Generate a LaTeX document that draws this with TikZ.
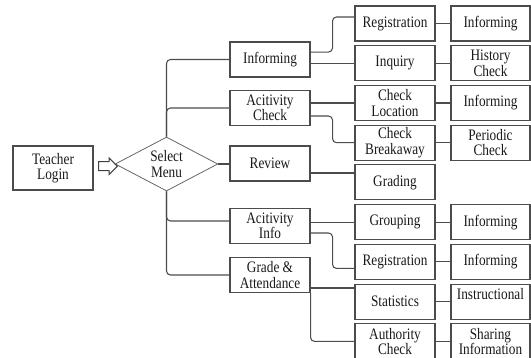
\documentclass[tikz,border=0pt]{standalone}
\usepackage{fontspec}
\setmainfont{Liberation Serif}[FakeStretch=0.83]
\usetikzlibrary{positioning,shapes.geometric,shapes.arrows}

\begin{document}
\begin{tikzpicture}[x=0.75pt,y=-0.75pt,node distance=29.8pt,line width=0.8pt,draw=black!70,
  every node/.style={font=\fontsize{12}{11.4}\selectfont,text=black!90},
  box/.style={draw=black!70,rectangle,align=center,minimum width=60pt,minimum height=26.25pt,inner sep=1pt},
  leaf/.style={box,minimum width=59.25pt,node distance=71.6pt},
  menu/.style={draw=black!60,line width=0.6pt,diamond,aspect=1.9,align=center,inner sep=0pt,minimum width=77pt,minimum height=40.5pt},
  bigarrow/.style={draw=black!75,single arrow,inner sep=3pt,single arrow head extend=2.8pt,minimum height=14pt}]

  \useasboundingbox (0,0) rectangle (531,357);
  \clip (0,0) rectangle (531,357);

  \node[box] (1) [minimum height=33pt] at (53,168) {Teacher\\Login};
  \node[menu] (2) at (166.5,164) {Select\\Menu};

  \node[box] (3) at (270,59.5) {Informing};
  \node[box] (4) at (270,108) {Acitivity\\Check};
  \node[box] (5) at (270,163.5) {Review};
  \node[box] (6) at (270,226) {Acitivity\\Info};
  \node[box] (7) at (270,275) {Grade \&\\Attendance};

  \node[box] (8) at (395,23.5) {Registration};
  \node[box] (9) [below of=8] {Inquiry};
  \node[box] (10) [below of=9] {Check\\Location};
  \node[box] (11) [below of=10] {Check\\Breakaway};
  \node[box] (12) [below of=11] {Grading};
  \node[box] (13) [below of=12] {Grouping};
  \node[box] (14) [below of=13] {Registration};
  \node[box] (15) [below of=14] {Statistics};
  \node[box] (16) [below of=15] {Authority\\Check};

  \node[leaf] (17) [right of=8] {Informing};
  \node[leaf] (18) [right of=9] {History\\Check};
  \node[leaf] (19) [right of=10] {Informing};
  \node[leaf] (20) [right of=11] {Periodic\\Check};
  \node[leaf] (21) [right of=13] {Informing};
  \node[leaf] (22) [right of=14] {Informing};
  \node[leaf] (23) [right of=15] {Instructional\\\mbox{}};
  \node[leaf] (24) [right of=16] {Sharing\\Information};

  \path (1) -- node[bigarrow] {} (2);

  % menu to first column
  \draw[rounded corners=3pt] (2.north) |- (3.west);
  \draw[rounded corners=3pt] (2.north) |- (4.west);
  \draw (2.east) -- (2.east -| 5.west);
  \draw[rounded corners=3pt] (2.south) |- ([yshift=3.75pt]6.west);
  \draw[rounded corners=3pt] (2.south) |- (7.west);

  % first column to second column
  \draw[rounded corners=3pt] ([yshift=5.6pt]3.east) -- ++(22,0) |- ([yshift=4.9pt]8.west);
  \draw (9.west -| 3.east) -- (9.west);
  \draw (10.west -| 4.east) -- (10.west);
  \draw[rounded corners=3pt] ([yshift=-6pt]4.east) -- ++(22,0) |- (11.west);
  \coordinate (r) at ([yshift=-7.1pt]5.east);
  \draw (r) -- (r -| 12.west);
  \draw (13.west -| 6.east) -- (13.west);
  \draw[rounded corners=3pt] ([yshift=-5.25pt]6.east) -- ++(22,0) |- ([yshift=-4.9pt]14.west);
  \coordinate (g) at ([yshift=-9.75pt]7.east);
  \draw (g) -- (g -| 15.west);
  \draw[rounded corners=3pt] (7.south east) |- (16.west);

  \path (8) edge (17)
        (9) edge (18)
        (10) edge (19)
        (11) edge (20)
        (13) edge (21)
        (14) edge (22)
        (15) edge (23)
        (16) edge (24);

\end{tikzpicture}
\end{document}
